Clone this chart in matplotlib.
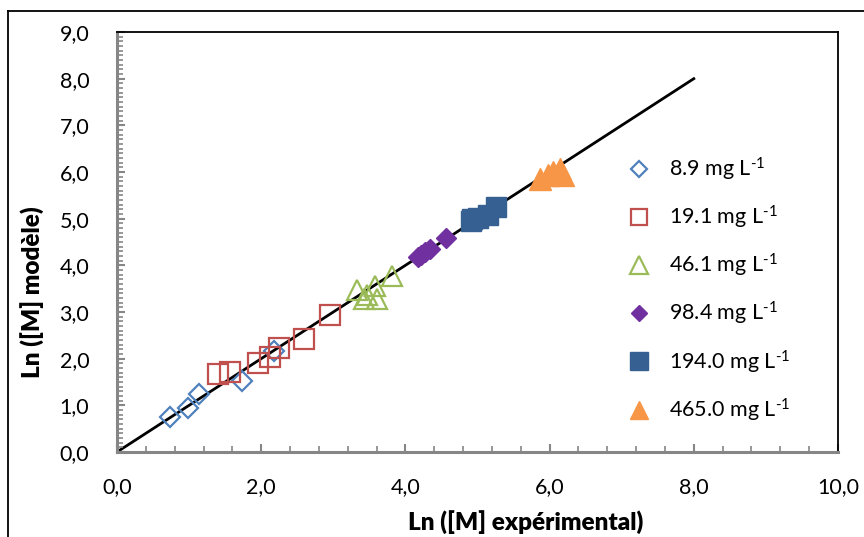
import matplotlib
matplotlib.use('Agg')
import matplotlib.pyplot as plt
from matplotlib.lines import Line2D
from matplotlib.ticker import MultipleLocator, FuncFormatter

plt.rcParams['font.family'] = ['Lato', 'DejaVu Sans']
plt.rcParams['mathtext.fontset'] = 'custom'
plt.rcParams['mathtext.rm'] = 'Lato'
plt.rcParams['mathtext.it'] = 'Lato:italic'
plt.rcParams['mathtext.bf'] = 'Lato:bold'

# data
x_89 = [0.74, 0.99, 1.14, 1.73, 2.18]
y_89 = [0.76, 0.94, 1.24, 1.53, 2.17]
x_191 = [1.40, 1.57, 1.96, 2.12, 2.25, 2.60, 2.95]
y_191 = [1.67, 1.71, 1.91, 2.03, 2.22, 2.43, 2.94]
x_461 = [3.33, 3.58, 3.82, 3.47, 3.60, 3.43]
y_461 = [3.47, 3.56, 3.78, 3.36, 3.28, 3.28]
x_984 = [4.17, 4.22, 4.27, 4.34, 4.57]
y_984 = [4.18, 4.23, 4.29, 4.36, 4.58]
x_1940 = [4.91, 4.92, 5.01, 5.14, 5.26]
y_1940 = [4.94, 5.00, 5.01, 5.08, 5.26]
x_4650 = [5.86, 5.98, 6.05, 6.14, 6.19]
y_4650 = [5.86, 5.93, 6.00, 6.06, 5.93]
line_x = [0.0, 8.0]
line_y = [0.0, 8.0]

series_labels = [r'8.9 mg L$^{\text{-}1}$', r'19.1 mg L$^{\text{-}1}$', r'46.1 mg L$^{\text{-}1}$',
                 r'98.4 mg L$^{\text{-}1}$', r'194.0 mg L$^{\text{-}1}$', r'465.0 mg L$^{\text{-}1}$']

fig = plt.figure(figsize=(8.64, 5.37), dpi=100)
ax = fig.add_axes([117/864., 85/537., 721/864., 420/537.])

ax.plot(line_x, line_y, color='black', linewidth=2, zorder=1)

ax.plot(x_89, y_89, 'D', ms=10, mfc='none', mec='#4F81BD', mew=1.6, linestyle='none', label=series_labels[0])
ax.plot(x_191, y_191, 's', ms=14, mfc='none', mec='#C0504D', mew=1.6, linestyle='none', label=series_labels[1])
ax.plot(x_461, y_461, '^', ms=15, mfc='none', mec='#9BBB59', mew=1.6, linestyle='none', label=series_labels[2])
ax.plot(x_984, y_984, 'D', ms=10, mfc='#7030A0', mec='#7030A0', linestyle='none', label=series_labels[3])
ax.plot(x_1940, y_1940, 's', ms=15, mfc='#376092', mec='#376092', linestyle='none', label=series_labels[4])
ax.plot(x_4650, y_4650, '^', ms=16, mfc='#F79646', mec='#F79646', linestyle='none', label=series_labels[5])

ax.set_xlim(0, 10)
ax.set_ylim(0, 9)
ax.xaxis.set_major_locator(MultipleLocator(2.0))
ax.xaxis.set_minor_locator(MultipleLocator(0.4))
ax.yaxis.set_major_locator(MultipleLocator(1.0))
ax.yaxis.set_minor_locator(MultipleLocator(0.1))
comma_fmt = FuncFormatter(lambda v, p: '{:.1f}'.format(v).replace('.', ','))
ax.xaxis.set_major_formatter(comma_fmt)
ax.yaxis.set_major_formatter(comma_fmt)

ax.tick_params(which='major', direction='in', length=6, width=1.5, color='#868686',
               labelsize=15.5, pad=18)
ax.tick_params(which='minor', direction='in', length=4, width=1.2, color='#868686')
ax.tick_params(axis='y', which='major', pad=20)

for side in ['left', 'bottom']:
    ax.spines[side].set_color('#868686')
    ax.spines[side].set_linewidth(2.2)
for side in ['top', 'right']:
    ax.spines[side].set_color('black')
    ax.spines[side].set_linewidth(1.3)

fig.text(526/864., 15/537., 'Ln ([M] expérimental)', ha='center', va='center',
         fontsize=17.5, fontweight='heavy')
fig.text(32/864., 245/537., 'Ln ([M] modèle)', ha='center', va='center',
         fontsize=17.5, fontweight='heavy', rotation=90)

leg = ax.legend(loc='upper left', bbox_to_anchor=(628/864., 1 - 156/537.),
                bbox_transform=fig.transFigure, frameon=False, fontsize=15.5,
                markerscale=0.85, handlelength=1.0, handletextpad=0.9,
                labelspacing=0.97, borderpad=0, borderaxespad=0)

# outer chart border (left and top edges visible)
fig.add_artist(Line2D([8/864., 8/864.], [0, 1 - 11/537.], transform=fig.transFigure,
                      color='black', linewidth=1.3))
fig.add_artist(Line2D([8/864., 1.0], [1 - 11/537., 1 - 11/537.], transform=fig.transFigure,
                      color='black', linewidth=1.3))

fig.savefig('out.png', dpi=100)
